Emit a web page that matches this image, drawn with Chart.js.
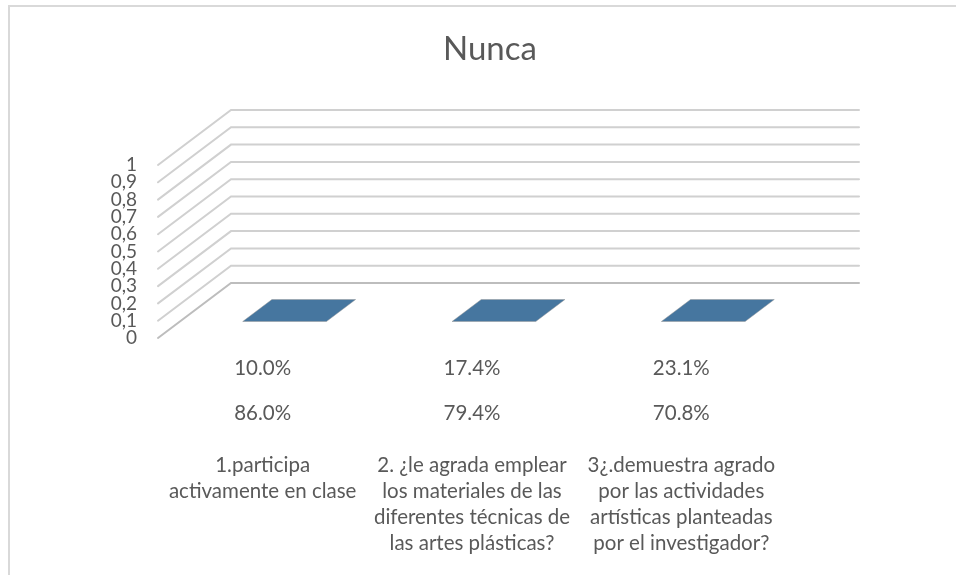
<!DOCTYPE html>
<html>
<head>
<meta charset="utf-8">
<title>Nunca</title>
<script src="https://cdn.jsdelivr.net/npm/chart.js@4.4.1/dist/chart.umd.min.js"></script>
<style>
  html, body { margin: 0; padding: 0; background: #fff; }
  #wrap { width: 956px; height: 575px; }
</style>
</head>
<body>
<div id="wrap"><canvas id="chart" width="956" height="575"></canvas></div>
<script>
// Data
// ====
const questions = [
  ['1.participa', 'activamente en clase'],
  ['2. ¿le agrada emplear', 'los materiales de las', 'diferentes técnicas de', 'las artes plásticas?'],
  ['3¿.demuestra agrado', 'por las actividades', 'artísticas planteadas', 'por el investigador?']
];
const rowOne = ['10.0%', '17.4%', '23.1%'];
const rowTwo = ['86.0%', '79.4%', '70.8%'];
const nunca = [0, 0, 0];
const yMin = 0, yMax = 1, yStep = 0.1;

// Look
// ====
const TEXT = '#595959';
const FONT = 'Lato, "Open Sans", sans-serif';
const DEPTH = { x: 73, y: -55 };   // offset of the back wall (3d look)

function tickFont(size, lh) {
  return { family: FONT, size: size, lineHeight: lh };
}

// outer frame like the exported picture
const framePlugin = {
  id: 'frame',
  beforeDraw(chart) {
    const ctx = chart.ctx;
    ctx.save();
    ctx.strokeStyle = '#d9d9d9';
    ctx.lineWidth = 2;
    ctx.strokeRect(9, 6, 2000, 2000);
    ctx.restore();
  }
};

// gridlines drawn as side wall + back wall
const wallPlugin = {
  id: 'wall',
  beforeDatasetsDraw(chart) {
    const ctx = chart.ctx;
    const area = chart.chartArea;
    const y = chart.scales.y;
    ctx.save();
    ctx.lineCap = 'round';
    y.ticks.forEach(function (t) {
      const py = y.getPixelForValue(t.value);
      ctx.strokeStyle = t.value === yMin ? '#bdbdbd' : '#d0d0d0';
      ctx.lineWidth = 2;
      ctx.beginPath();
      ctx.moveTo(area.left, py);
      ctx.lineTo(area.left + DEPTH.x, py + DEPTH.y);
      ctx.lineTo(area.right + DEPTH.x, py + DEPTH.y);
      ctx.stroke();
    });
    ctx.restore();
  }
};

// bars as boxes sitting in the middle of the floor depth
const boxPlugin = {
  id: 'box3d',
  beforeDatasetDraw() {
    return false;
  },
  afterDatasetsDraw(chart) {
    const ctx = chart.ctx;
    const f = 0.3, b = 0.7;
    ctx.save();
    chart.data.datasets.forEach(function (ds, i) {
      chart.getDatasetMeta(i).data.forEach(function (bar) {
        const p = bar.getProps(['x', 'y', 'base', 'width'], true);
        const l = p.x - p.width / 2, r = p.x + p.width / 2;
        const fx = DEPTH.x * f, fy = DEPTH.y * f, bx = DEPTH.x * b, by = DEPTH.y * b;

        // front
        ctx.fillStyle = ds.backgroundColor;
        ctx.fillRect(l + fx, p.y + fy, p.width, p.base - p.y);
        // side
        ctx.fillStyle = '#3b6491';
        ctx.beginPath();
        ctx.moveTo(r + fx, p.y + fy);
        ctx.lineTo(r + bx, p.y + by);
        ctx.lineTo(r + bx, p.base + by);
        ctx.lineTo(r + fx, p.base + fy);
        ctx.closePath();
        ctx.fill();
        // top
        ctx.fillStyle = ds.topColor;
        ctx.strokeStyle = 'rgba(150,150,150,0.6)';
        ctx.lineWidth = 0.8;
        ctx.beginPath();
        ctx.moveTo(l + fx, p.y + fy);
        ctx.lineTo(r + fx, p.y + fy);
        ctx.lineTo(r + bx, p.y + by);
        ctx.lineTo(l + bx, p.y + by);
        ctx.closePath();
        ctx.fill();
        ctx.stroke();
      });
    });
    ctx.restore();
  }
};

function rowAxis(labels, weight, pad, height) {
  return {
    type: 'category',
    position: 'bottom',
    labels: labels,
    offset: true,
    weight: weight,
    grid: { display: false, drawTicks: false },
    border: { display: false },
    ticks: {
      color: TEXT, font: tickFont(20.5, '26px'), padding: pad,
      autoSkip: false, maxRotation: 0, minRotation: 0
    },
    afterFit(s) { s.height = height; }
  };
}

const xMain = rowAxis(null, 3, 26, 149);
delete xMain.labels;

new Chart(document.getElementById('chart'), {
  type: 'bar',
  data: {
    labels: questions,
    datasets: [{
      label: 'Nunca',
      data: nunca,
      backgroundColor: '#4f81bd',
      topColor: '#46769f',
      barPercentage: 0.4,
      categoryPercentage: 1
    }]
  },
  options: {
    responsive: false,
    animation: false,
    devicePixelRatio: 1,
    layout: { padding: { left: 24, right: 0, top: 0, bottom: 0 } },
    plugins: {
      legend: { display: false },
      tooltip: { enabled: false },
      title: {
        display: true,
        text: 'Nunca',
        color: TEXT,
        font: { family: FONT, size: 33, weight: 'normal' },
        padding: { top: 30, bottom: 95.4 }
      }
    },
    scales: {
      x: xMain,
      rowOne: rowAxis(rowOne, 1, 17, 44),
      rowTwo: rowAxis(rowTwo, 2, 18, 44),
      y: {
        min: yMin,
        max: yMax,
        grid: { display: false, drawTicks: false },
        border: { display: false },
        ticks: {
          stepSize: yStep,
          autoSkip: false,
          color: TEXT,
          font: tickFont(19, 1),
          padding: 21,
          callback: function (v) {
            return String(Math.round(v * 10) / 10).replace('.', ',');
          }
        },
        afterFit(s) { s.width = 134; }
      },
      // empty axis on the right leaves room for the back wall
      yRoom: {
        type: 'linear',
        position: 'right',
        grid: { display: false, drawTicks: false },
        border: { display: false },
        ticks: { display: false },
        afterFit(s) { s.width = 170; }
      }
    }
  },
  plugins: [framePlugin, wallPlugin, boxPlugin]
});
</script>
</body>
</html>
